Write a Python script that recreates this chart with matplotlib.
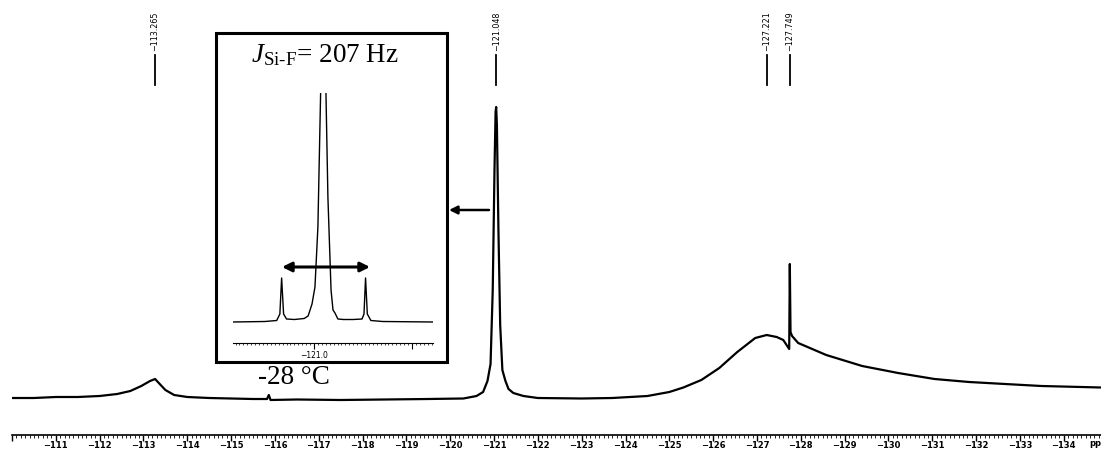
import numpy as np
import matplotlib.pyplot as plt
from matplotlib.patches import Rectangle
from matplotlib.ticker import MultipleLocator, FixedLocator
import matplotlib.transforms as mtransforms

plt.rcParams['mathtext.fontset'] = 'custom'
plt.rcParams['mathtext.rm'] = 'Liberation Serif'
plt.rcParams['mathtext.it'] = 'Liberation Serif:italic'

## main 19F spectrum (ppm, height above baseline)
main_ppm = [-110.02, -110.5, -111.0, -111.5, -112.0, -112.4, -112.7, -112.95, -113.15, -113.265,
            -113.35, -113.5, -113.7, -114.0, -114.5, -115.0, -115.5, -115.82, -115.86, -115.9,
            -116.5, -117.5, -118.5, -119.5, -120.3, -120.6, -120.75, -120.85, -120.92, -120.97,
            -121.01, -121.035, -121.048, -121.065, -121.1, -121.14, -121.19, -121.26, -121.33, -121.44,
            -121.67, -122.0, -123.0, -123.7, -124.5, -125.0, -125.32, -125.73, -126.14, -126.55,
            -126.96, -127.221, -127.45, -127.6, -127.735, -127.749, -127.765, -127.8, -127.94, -128.58,
            -129.4, -130.22, -131.05, -131.84, -132.66, -133.49, -134.85]
main_int = [2, 2, 3, 3, 4, 6, 9, 14, 19, 21,
            17, 10, 5, 3, 2, 1.5, 1, 1, 5, 0,
            0.5, 0, 0.5, 1, 1.5, 4, 8, 19, 36, 110,
            230, 288, 293, 275, 170, 75, 30, 19, 11, 7,
            4, 2, 1.5, 2, 4, 8, 12.5, 20, 32, 48,
            62, 65, 63, 60, 51, 136, 68, 64, 57, 45,
            34, 27, 21, 18, 16, 14, 12.5]

## inset: expanded -121.0 region with 29Si satellites
inset_ppm = [-120.587, -120.75, -120.81, -120.826, -120.835, -120.845, -120.86, -120.9, -120.95, -120.97,
             -120.99, -121.005, -121.02, -121.035, -121.048, -121.06, -121.071, -121.087, -121.097, -121.107,
             -121.122, -121.15, -121.2, -121.245, -121.255, -121.263, -121.272, -121.29, -121.35, -121.607]
inset_int = [0, 0.5, 1.5, 8, 44, 8, 3, 2.5, 3.5, 6,
             18, 35, 95, 240, 400, 240, 125, 32, 12, 9,
             3, 2.5, 2.5, 3, 8, 44, 8, 1.5, 0.5, 0]

peak_labels = [-113.265, -121.048, -127.221, -127.749]
major_ticks = list(range(-110, -135, -1))

W, H = 1101, 451
fig = plt.figure(figsize=(W / 100, H / 100), dpi=100)

ax = fig.add_axes([12 / W, 16 / H, 1089 / W, 435 / H])
ax.plot(main_ppm, main_int, color='black', lw=1.6)
ax.set_xlim(-110.02, -134.85)
ax.set_ylim(-35, 400)
for s in ['left', 'right', 'top']:
    ax.spines[s].set_visible(False)
ax.spines['bottom'].set_linewidth(1.2)
ax.set_yticks([])
ax.set_xticks(major_ticks)
ax.set_xticklabels([''] + ['\u2212%d' % abs(t) for t in major_ticks[1:]],
                   fontsize=6, fontweight='bold', family='DejaVu Sans')
ax.xaxis.set_minor_locator(MultipleLocator(0.1))
ax.tick_params(axis='x', which='major', length=4, width=1, pad=0.5)
ax.tick_params(axis='x', which='minor', length=2, width=0.6)
ax.text(-134.58, -43, 'ppm', fontsize=6, fontweight='bold', ha='left', va='center', clip_on=False)

# peak picking labels
trans = mtransforms.blended_transform_factory(ax.transData, ax.transAxes)
for p in peak_labels:
    ax.plot([p, p], [0.805, 0.874], color='black', lw=1.3, transform=trans, clip_on=False)
    ax.text(p, 0.883, '\u2212%.3f' % abs(p), rotation=90, ha='center', va='bottom',
            fontsize=5.8, transform=trans)

# arrow pointing to the inset
ax.annotate('', xy=(449 / W, 1 - 210 / H), xytext=(489 / W, 1 - 210 / H),
            xycoords='figure fraction', textcoords='figure fraction',
            arrowprops=dict(arrowstyle='-|>', color='black', lw=1.8, mutation_scale=12,
                            shrinkA=0, shrinkB=0))

# inset frame
fig.patches.append(Rectangle((216 / W, (H - 362) / H), 231 / W, 329 / H, transform=fig.transFigure,
                             fill=False, edgecolor='black', lw=2.2))

ins = fig.add_axes([233 / W, (H - 343) / H, 200 / W, 250 / H])
ins.patch.set_alpha(0)
ins.plot(inset_ppm, inset_int, color='black', lw=1.0)
ins.set_xlim(-120.587, -121.607)
ins.set_ylim(-21, 229)
for s in ['left', 'right', 'top']:
    ins.spines[s].set_visible(False)
ins.spines['bottom'].set_linewidth(0.8)
ins.set_yticks([])
ins.xaxis.set_major_locator(FixedLocator([-121.0, -121.5]))
ins.set_xticklabels(['\u2212121.0', ''], fontsize=5.5)
ins.xaxis.set_minor_locator(MultipleLocator(0.02))
ins.tick_params(axis='x', which='major', length=4, width=0.8, pad=2)
ins.tick_params(axis='x', which='minor', length=1.2, width=0.5)

ins.annotate('', xy=(282 / W, 1 - 267 / H), xytext=(370 / W, 1 - 267 / H),
             xycoords='figure fraction', textcoords='figure fraction',
             arrowprops=dict(arrowstyle='<|-|>', color='black', lw=2.2, mutation_scale=14,
                             shrinkA=0, shrinkB=0))

fig.text(325 / W, 1 - 55 / H, r'$J_{\mathrm{Si\text{-}F}}$= 207 Hz', ha='center', va='center',
         fontsize=19.5, family='Liberation Serif')
fig.text(294 / W, 1 - 378 / H, '-28 \u00b0C', ha='center', va='center',
         fontsize=19.5, family='Liberation Serif')

fig.savefig('out.png', dpi=100)
